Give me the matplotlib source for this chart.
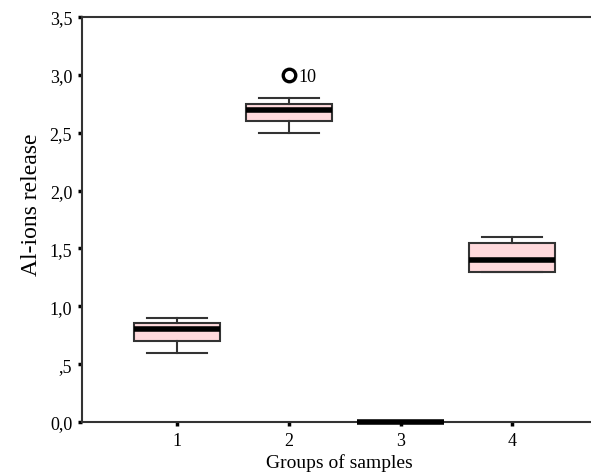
import matplotlib.pyplot as plt

plt.rcParams['font.family'] = ['Liberation Serif', 'DejaVu Serif']

# Box statistics
groups = [1, 2, 3, 4]
whislo = [0.60, 2.50, 0.0, 1.30]
q1 = [0.70, 2.60, 0.0, 1.30]
med = [0.80, 2.70, 0.0, 1.40]
q3 = [0.855, 2.75, 0.0, 1.55]
whishi = [0.90, 2.80, 0.0, 1.60]
outliers = [[], [3.0], [], []]
outlier_ids = [[], ['10'], [], []]

yticks = [0, 0.5, 1.0, 1.5, 2.0, 2.5, 3.0, 3.5]
ytick_labels = ['0,0', ',5', '1,0', '1,5', '2,0', '2,5', '3,0', '3,5']

stats = []
for i in range(len(groups)):
    stats.append({'whislo': whislo[i], 'q1': q1[i], 'med': med[i],
                  'q3': q3[i], 'whishi': whishi[i], 'fliers': []})

fig = plt.figure(figsize=(5.91, 4.77), dpi=100)
ax = fig.add_axes([0.1387, 0.1132, 0.87, 0.8491])

edge = '#333333'
bp = ax.bxp(stats, positions=groups, widths=0.77, patch_artist=True,
            showfliers=False,
            boxprops=dict(facecolor='#ffd9dc', edgecolor=edge, linewidth=1.5),
            medianprops=dict(color='black', linewidth=4, solid_capstyle='butt'),
            whiskerprops=dict(color=edge, linewidth=1.5),
            capprops=dict(color=edge, linewidth=1.5),
            capwidths=0.54)
for m in bp['medians']:
    m.set_clip_on(False)
    m.set_zorder(5)

# outliers
for g, vals, ids in zip(groups, outliers, outlier_ids):
    for v, lab in zip(vals, ids):
        ax.plot(g, v, 'o', markerfacecolor='none', markeredgecolor='black',
                markeredgewidth=2.4, markersize=9)
        ax.annotate(lab, (g, v), xytext=(7, -1), textcoords='offset points',
                    va='center', ha='left', fontsize=13)

ax.set_xlim(0.15, 4.75)
ax.set_ylim(0, 3.5)
ax.set_xticks(groups)
ax.set_xticklabels([str(g) for g in groups])
ax.set_yticks(yticks)
ax.set_yticklabels(ytick_labels)
ax.tick_params(axis='both', length=3, width=2.5, color='black', labelsize=13,
               direction='out', pad=4)

ax.spines['right'].set_visible(False)
for s in ['left', 'top', 'bottom']:
    ax.spines[s].set_color(edge)
    ax.spines[s].set_linewidth(1.5)

ax.set_xlabel('Groups of samples', fontsize=14, labelpad=3)
ax.set_ylabel('Al-ions release', fontsize=17)
ax.yaxis.set_label_coords(-0.077, 0.54)

fig.savefig('out.png', dpi=100)
